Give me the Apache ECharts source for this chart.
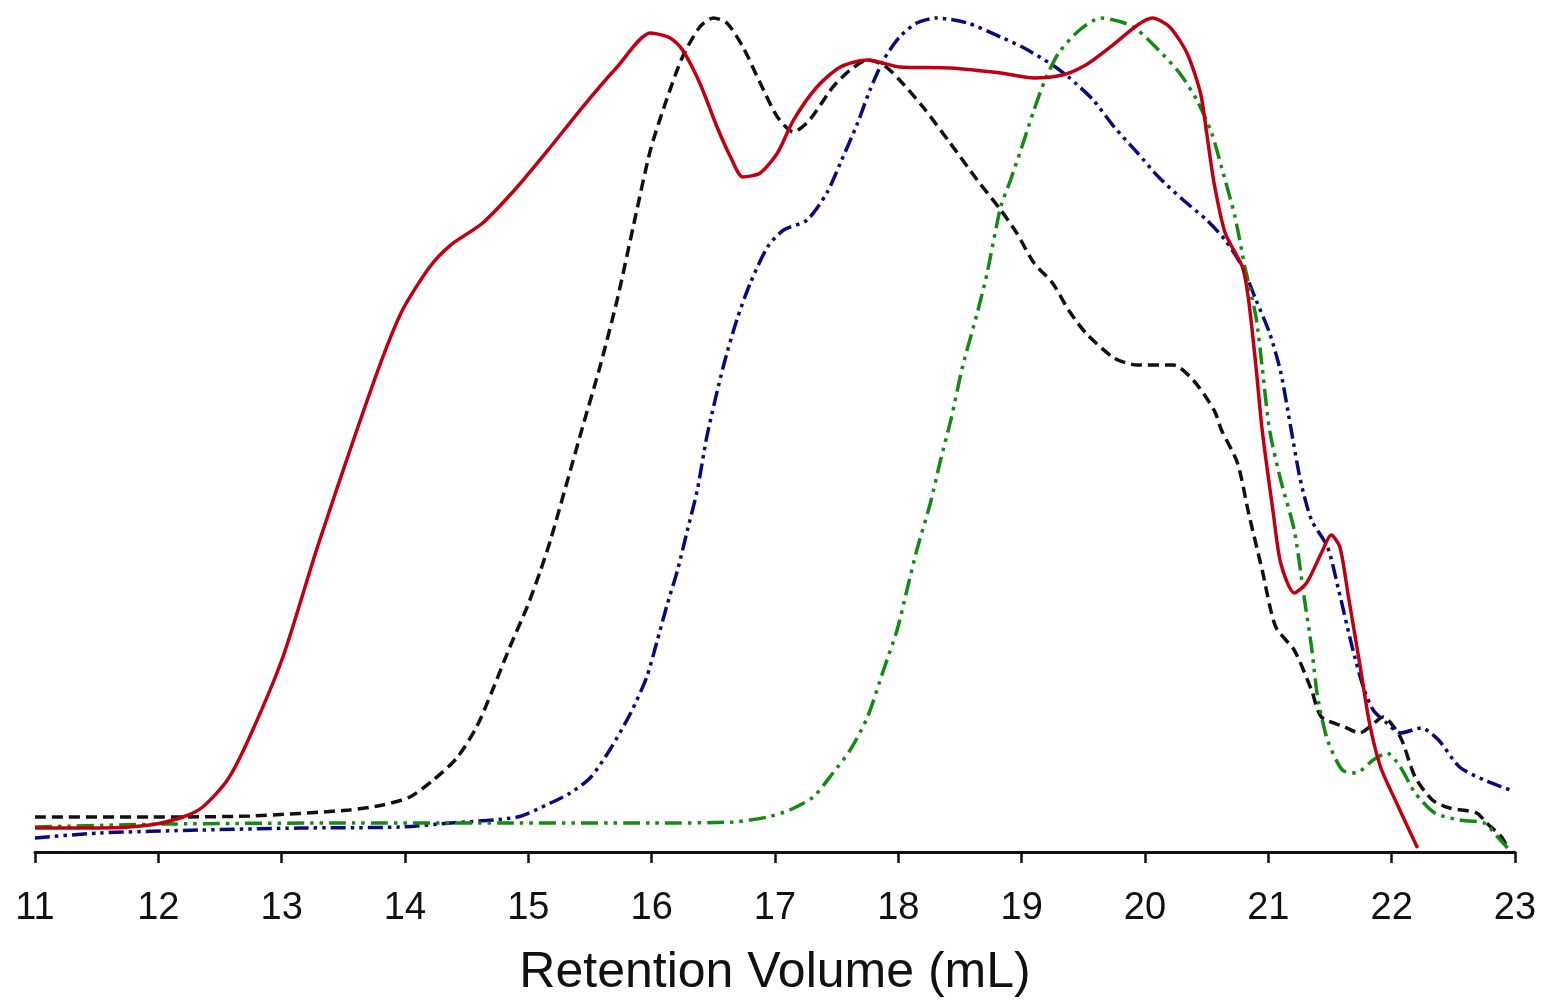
<!DOCTYPE html>
<html>
<head>
<meta charset="utf-8">
<script src="https://cdn.jsdelivr.net/npm/echarts@6/dist/echarts.min.js"></script>
<style>
html,body{margin:0;padding:0;background:#fff;}
#chart{width:1542px;height:1000px;}
</style>
</head>
<body>
<div id="chart"></div>
<script>
// x-axis ticks
const xTicks = [11,12,13,14,15,16,17,18,19,20,21,22,23];
const xAxisTitle = 'Retention Volume (mL)';

// Series: [retention volume (mL), relative signal]
const redSolid = [
[11.00,2.87],[11.53,2.87],[11.93,3.23],[12.20,4.19],[12.36,5.39],[12.56,8.62],[12.74,13.77],
[13.01,23.35],[13.29,36.53],[13.61,50.54],[13.82,59.28],[13.98,64.91],[14.20,70.06],[14.37,72.69],
[14.63,75.33],[14.91,79.64],[15.18,84.43],[15.44,89.22],[15.72,94.01],[15.99,98.08],[16.15,97.49],
[16.25,96.05],[16.39,92.10],[16.53,86.83],[16.64,83.23],[16.74,80.84],[16.88,81.32],[17.02,83.71],
[17.15,87.66],[17.34,91.62],[17.53,94.01],[17.75,94.85],[18.01,94.01],[18.42,93.89],[18.83,93.29],
[19.10,92.69],[19.33,93.05],[19.52,94.25],[19.72,96.41],[19.94,99.04],[20.06,99.88],[20.20,98.80],
[20.34,95.69],[20.45,90.90],[20.50,86.11],[20.56,80.12],[20.65,74.13],[20.79,70.06],[20.84,66.11],
[20.90,58.08],[20.95,50.54],[21.04,40.60],[21.10,34.61],[21.21,31.02],[21.31,32.22],[21.43,35.81],
[21.51,37.96],[21.58,36.53],[21.65,30.54],[21.74,22.63],[21.82,15.45],[21.91,10.18],[22.04,5.87],
[22.21,0.48]
];
const blackDashed = [
[11.00,4.19],[11.93,4.19],[12.74,4.31],[13.55,5.03],[13.82,5.63],[14.04,6.59],[14.23,8.62],
[14.42,11.26],[14.58,14.97],[14.71,19.40],[14.85,24.55],[14.99,29.34],[15.10,33.77],[15.18,37.37],
[15.44,50.90],[15.58,58.08],[15.72,66.11],[15.85,74.85],[15.99,84.07],[16.12,90.06],[16.25,95.21],
[16.39,98.80],[16.50,99.88],[16.61,99.28],[16.74,96.41],[16.88,92.10],[17.02,88.02],[17.15,86.23],
[17.28,87.66],[17.47,91.62],[17.61,93.65],[17.75,94.85],[17.88,94.25],[18.01,92.46],[18.20,89.22],
[18.42,84.91],[18.64,80.48],[18.83,76.89],[18.96,74.13],[19.10,70.54],[19.25,68.14],[19.38,64.91],
[19.52,62.16],[19.75,59.16],[19.94,58.32],[20.23,58.32],[20.39,56.53],[20.56,52.93],[20.62,50.54],
[20.75,46.59],[20.84,40.60],[20.95,33.77],[21.06,26.95],[21.21,24.19],[21.35,19.40],[21.43,16.17],
[21.62,14.97],[21.74,14.25],[21.82,14.97],[21.93,16.17],[22.07,13.77],[22.19,8.98],[22.33,6.23],
[22.47,5.27],[22.69,4.67],[22.77,3.47],[22.89,1.80],[22.94,0.48]
];
const blueDashDot = [
[11.00,1.68],[11.53,2.28],[12.34,2.63],[13.15,2.87],[13.96,2.99],[14.37,3.47],[14.91,4.19],
[15.18,5.87],[15.34,7.07],[15.50,8.86],[15.66,12.22],[15.83,16.65],[15.96,20.96],[16.04,25.03],
[16.12,29.34],[16.21,33.77],[16.29,38.56],[16.37,43.35],[16.45,49.94],[16.58,58.08],[16.69,63.71],
[16.80,68.14],[16.94,72.46],[17.07,74.49],[17.26,75.69],[17.42,78.92],[17.53,82.51],[17.67,87.31],
[17.77,91.26],[17.88,94.85],[18.01,97.60],[18.15,99.28],[18.31,99.88],[18.56,99.28],[18.83,97.60],
[19.02,96.29],[19.25,94.25],[19.38,92.81],[19.58,90.06],[19.75,86.83],[19.94,83.71],[20.11,80.84],
[20.31,78.08],[20.50,75.69],[20.65,73.29],[20.79,70.06],[20.90,66.11],[21.01,62.16],[21.10,57.50],
[21.18,51.00],[21.26,44.55],[21.35,39.76],[21.48,36.53],[21.57,31.38],[21.68,24.55],[21.77,19.76],
[21.85,17.01],[21.96,15.45],[22.07,14.25],[22.24,14.85],[22.38,13.41],[22.55,10.18],[22.75,8.62],
[22.96,7.43]
];
const greenDashDot = [
[11.00,2.99],[12.07,3.35],[13.42,3.47],[14.77,3.47],[15.99,3.47],[16.66,3.59],[16.94,4.19],
[17.12,5.03],[17.31,6.59],[17.47,9.46],[17.61,12.22],[17.75,16.17],[17.88,21.80],[17.99,26.59],
[18.07,31.38],[18.15,36.17],[18.26,41.80],[18.34,46.80],[18.43,52.00],[18.52,58.08],[18.64,64.55],
[18.72,69.34],[18.83,77.25],[18.91,80.48],[19.02,85.27],[19.10,88.86],[19.19,92.46],[19.30,95.69],
[19.47,98.44],[19.64,99.88],[19.81,99.40],[19.94,98.44],[20.11,96.05],[20.28,93.29],[20.42,90.06],
[20.54,86.11],[20.62,82.04],[20.73,76.05],[20.81,70.06],[20.90,64.07],[20.95,58.08],[21.01,50.54],
[21.10,44.55],[21.21,38.56],[21.29,30.54],[21.35,24.55],[21.40,18.56],[21.48,13.41],[21.60,9.82],
[21.71,9.46],[21.85,11.02],[21.96,11.86],[22.07,10.18],[22.19,7.07],[22.35,4.67],[22.55,3.83],
[22.75,3.47],[22.86,1.80],[22.94,0.48]
];

const chart = echarts.init(document.getElementById('chart'), null, {renderer:'canvas'});
const FONT = '"Liberation Sans", Arial, sans-serif';
chart.setOption({
  backgroundColor:'#ffffff',
  animation:false,
  grid:{left:35,right:27,top:17,bottom:148,containLabel:false,outerBoundsMode:'none'},
  xAxis:{
    type:'value', min:xTicks[0], max:xTicks[xTicks.length-1], interval:1,
    name:xAxisTitle, nameLocation:'middle', nameGap:96,
    nameTextStyle:{fontFamily:FONT,fontSize:50,color:'#111'},
    axisLine:{show:true,onZero:false,lineStyle:{color:'#111',width:3}},
    axisTick:{show:true,inside:false,length:11,lineStyle:{color:'#111',width:2.5}},
    axisLabel:{margin:38,fontFamily:FONT,fontSize:38,color:'#111'},
    splitLine:{show:false}
  },
  yAxis:{type:'value',min:0,max:100,show:false},
  series:[
    {type:'line',data:blackDashed,showSymbol:false,smooth:0.25,z:2,
     lineStyle:{color:'#111111',width:3.5,type:[11,6]}},
    {type:'line',data:blueDashDot,showSymbol:false,smooth:0.25,z:3,
     lineStyle:{color:'#0a0a80',width:3.5,type:[15,5,3.5,5,3.5,5]}},
    {type:'line',data:greenDashDot,showSymbol:false,smooth:0.25,z:4,
     lineStyle:{color:'#138a13',width:3.5,type:[17,6,3.5,6,3.5,6]}},
    {type:'line',data:redSolid,showSymbol:false,smooth:0.25,z:5,
     lineStyle:{color:'#c00010',width:3.5}}
  ]
});
</script>
</body>
</html>
